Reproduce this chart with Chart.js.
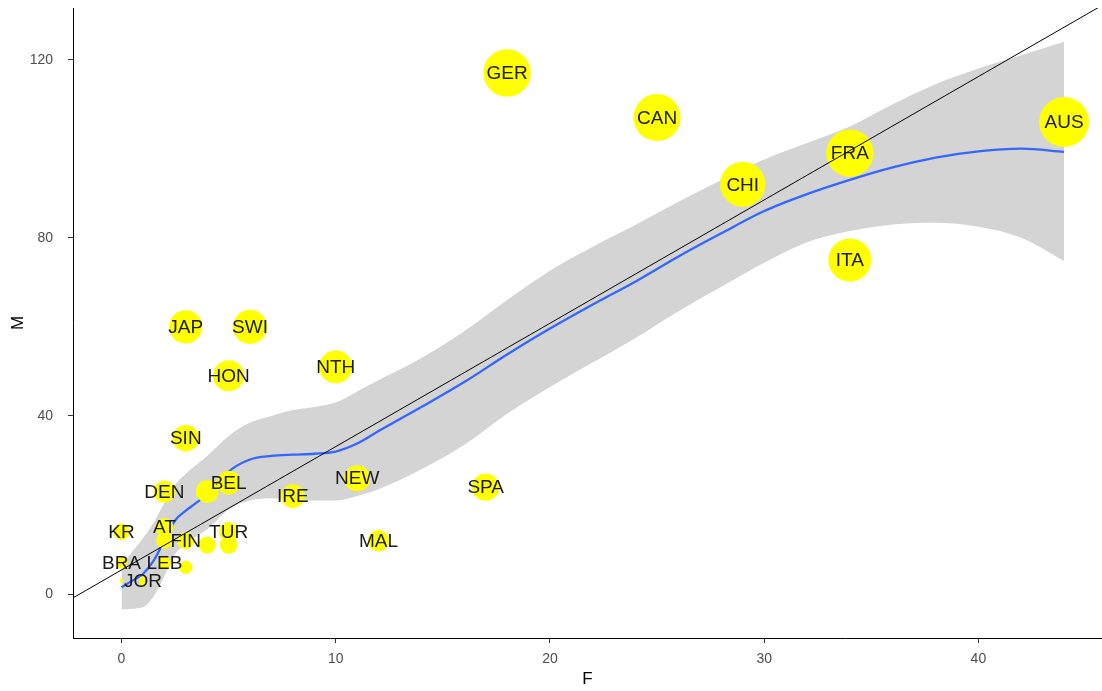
<!DOCTYPE html>
<html>
<head>
<meta charset="utf-8">
<script src="https://cdn.jsdelivr.net/npm/chart.js@4.4.1/dist/chart.umd.min.js"></script>
<style>
  html, body { margin: 0; padding: 0; background: #ffffff; }
  canvas { display: block; }
</style>
</head>
<body>
<canvas id="chart" width="1102" height="691"></canvas>
<script>
// Country codes (blank entries are points whose labels are not printed)
const countries = ['AUS','GER','CAN','FRA','CHI','ITA','JAP','SWI','NTH','HON','SIN','NEW','SPA','BEL','DEN','IRE','MAL','AT','KR','TUR','FIN','BRA','LEB','JOR','','','','','','',''];
// F and M counts per country
const femaleF = [44, 18, 25, 34, 29, 34, 3, 6, 10, 5, 3, 11, 17, 5, 2, 8, 12, 2, 0, 5, 3, 0, 2, 1, 4, 2, 4, 5, 0, 1, 3];
const maleM   = [106, 117, 107, 99, 92, 75, 60, 60, 51, 49, 35, 26, 24, 25, 23, 22, 12, 15, 14, 14, 12, 7, 7, 3, 23, 12, 11, 11, 3, 2, 6];
// F + M, drives the bubble size
const total   = [150, 135, 132, 133, 121, 109, 63, 66, 61, 54, 38, 37, 41, 30, 25, 30, 24, 17, 14, 19, 15, 7, 9, 4, 27, 14, 15, 16, 3, 3, 9];

// Loess fit of M on F with its confidence band
const smoothF     = [0, 0.5, 1, 1.5, 2, 2.5, 3, 3.5, 4, 5, 6, 7, 8, 9, 10, 11, 12, 14, 16, 18, 20, 22, 24, 26, 28, 30, 32, 34, 36, 38, 40, 42, 44];
const smoothFit   = [1.5, 3, 4.5, 7.5, 12, 16.5, 18.7, 20.5, 22.5, 27.5, 30.2, 31, 31.3, 31.5, 32, 33.8, 36.6, 42, 47.6, 53.8, 59.6, 65, 70.2, 75.8, 81, 86, 89.8, 93, 95.8, 98, 99.4, 100, 99.3];
const smoothLower = [-3.5, -3.3, -3, -0.5, 4, 9, 11, 13, 14.5, 19, 21, 21.5, 21, 21, 21, 22, 23.5, 28, 33.5, 40.5, 46.5, 52, 57.5, 63.5, 69, 74.4, 79, 81.5, 83, 83.4, 82.5, 80, 74.8];
const smoothUpper = [6.5, 9.5, 12.5, 16, 20.5, 24.5, 27, 29, 31, 35.5, 38.5, 40, 41.3, 42, 43, 45.5, 48, 53, 59, 66, 72.6, 78, 82.9, 88.1, 93, 97.6, 101.3, 105, 110, 114.5, 118, 121, 124];

// Straight reference line  M = intercept + slope * F
const refIntercept = 5.4;
const refSlope = 2.77;

// Axis ticks and limits
const xTicks = [0, 10, 20, 30, 40];
const yTicks = [0, 40, 80, 120];
const xMin = -2.264, xMax = 45.77;
const yMin = -9.88,  yMax = 131.6;

// Area-style size scale for the bubbles (radius in px)
const tMin = Math.min(...total), tMax = Math.max(...total);
const sizeScale = v => 2 + 23 * Math.sqrt((v - tMin) / (tMax - tMin));

const toXY = (xs, ys) => xs.map((x, i) => ({ x: x, y: ys[i] }));
const bubbles = femaleF.map((f, i) => ({ x: f, y: maleM[i], r: sizeScale(total[i]) }));
const refLine = [xMin, xMax].map(f => ({ x: f, y: refIntercept + refSlope * f }));

const FONT = '"Liberation Sans", Arial, Helvetica, sans-serif';

// Country codes printed on top of the bubbles
const countryLabels = {
  id: 'countryLabels',
  afterDatasetDraw(chart, args) {
    if (args.index !== 1) return;
    const ctx = chart.ctx;
    ctx.save();
    ctx.font = '19px ' + FONT;
    ctx.fillStyle = '#1a1a1a';
    ctx.textAlign = 'center';
    ctx.textBaseline = 'middle';
    args.meta.data.forEach((el, i) => {
      if (countries[i]) ctx.fillText(countries[i], el.x, el.y + 1);
    });
    ctx.restore();
  }
};

new Chart(document.getElementById('chart'), {
  type: 'scatter',
  data: {
    datasets: [
      {
        type: 'line', data: refLine, borderColor: '#000000', borderWidth: 1,
        pointRadius: 0, fill: false, order: 0
      },
      {
        type: 'bubble', data: bubbles, backgroundColor: '#FFFF00',
        borderWidth: 0, order: 1, clip: false
      },
      {
        type: 'line', data: toXY(smoothF, smoothFit), borderColor: '#3366FF', borderWidth: 2.3,
        pointRadius: 0, fill: false, cubicInterpolationMode: 'monotone', order: 2
      },
      {
        type: 'line', data: toXY(smoothF, smoothLower), borderWidth: 0, borderColor: 'rgba(0,0,0,0)',
        pointRadius: 0, fill: false, cubicInterpolationMode: 'monotone', order: 3
      },
      {
        type: 'line', data: toXY(smoothF, smoothUpper), borderWidth: 0, borderColor: 'rgba(0,0,0,0)',
        pointRadius: 0, fill: '-1', backgroundColor: '#D4D4D4', cubicInterpolationMode: 'monotone', order: 3
      }
    ]
  },
  options: {
    responsive: false,
    devicePixelRatio: 1,
    animation: false,
    events: [],
    layout: { autoPadding: false, padding: { top: 8, right: 0, bottom: 0, left: 0 } },
    plugins: { legend: { display: false }, tooltip: { enabled: false } },
    scales: {
      x: {
        type: 'linear', min: xMin, max: xMax,
        afterBuildTicks: s => { s.ticks = xTicks.map(v => ({ value: v })); },
        afterFit: s => { s.height = 53; s.paddingLeft = 0; s.paddingRight = 0; },
        grid: { display: true, drawOnChartArea: false, drawTicks: true, tickLength: 5, color: '#333333', lineWidth: 1 },
        border: { display: true, color: '#000000', width: 1 },
        ticks: { color: '#4d4d4d', font: { size: 14, family: FONT }, padding: 8, maxRotation: 0, autoSkip: false },
        title: { display: true, text: 'F', color: '#000000', font: { size: 17, family: FONT }, padding: { top: 0, bottom: 1 } }
      },
      y: {
        type: 'linear', min: yMin, max: yMax,
        afterBuildTicks: s => { s.ticks = yTicks.map(v => ({ value: v })); },
        afterFit: s => { s.width = 73; s.paddingTop = 0; s.paddingBottom = 0; },
        grid: { display: true, drawOnChartArea: false, drawTicks: true, tickLength: 5, color: '#333333', lineWidth: 1 },
        border: { display: true, color: '#000000', width: 1 },
        ticks: { color: '#4d4d4d', font: { size: 14, family: FONT }, padding: 15, autoSkip: false },
        title: { display: true, text: 'M', color: '#000000', font: { size: 17, family: FONT }, padding: { top: 8, bottom: 0 } }
      }
    }
  },
  plugins: [countryLabels]
});
</script>
</body>
</html>
